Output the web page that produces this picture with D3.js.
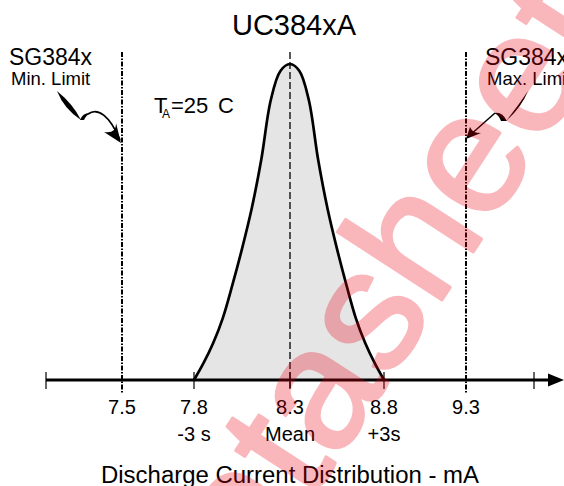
<!DOCTYPE html>
<html><head><meta charset="utf-8">
<script src="https://cdn.jsdelivr.net/npm/d3@7"></script>
<style>body{margin:0;background:#fff}svg{display:block}text{font-family:"Liberation Sans",Arial,sans-serif;fill:#000}</style>
</head><body>
<svg id="c" width="564" height="486"></svg>
<script>
const chartTitle = "UC384xA";
const axisTitle = "Discharge Current Distribution  - mA";
const tickValues = [7.5, 7.8, 8.3, 8.8, 9.3];
const tickLabels = ["7.5", "7.8", "8.3", "8.8", "9.3"];
const sigmaValues = [7.8, 8.3, 8.8];
const sigmaLabels = ["-3 s", "Mean", "+3s"];
const limitValues = [7.5, 9.3];
const limitNames = ["SG384x", "SG384x"];
const limitSubs = ["Min. Limit", "Max. Limit"];
const distValues = [7.80,7.85,7.90,7.95,8.00,8.05,8.10,8.15,8.20,8.25,8.30,8.35,8.40,8.45,8.50,8.55,8.60,8.65,8.70,8.75,8.80];
const distFreq   = [0,0.054,0.117,0.196,0.301,0.415,0.541,0.696,0.886,0.978,1.0,0.978,0.886,0.696,0.541,0.415,0.301,0.196,0.117,0.054,0];
const watermark = "datasheet";

const svg = d3.select("#c");
const axisY = 380, axisX0 = 46, axisTick1 = 534, axisX1 = 564;
const x = d3.scaleLinear().domain(tickValues).range([122, 194, 290, 384, 466]);
const y = d3.scaleLinear().domain([0, 1]).range([axisY, 64]);
const pts = distValues.map((v, i) => [v, distFreq[i]]);

// filled distribution
svg.append("path").datum(pts)
  .attr("d", d3.area().x(d => x(d[0])).y0(y(0)).y1(d => y(d[1])).curve(d3.curveCatmullRom))
  .attr("fill", "#e5e5e5");

// mean dashed line
svg.append("line").attr("x1", x(8.3)).attr("x2", x(8.3)).attr("y1", 52).attr("y2", 388)
  .attr("stroke", "#000").attr("stroke-width", 1.3).attr("stroke-dasharray", "7,3");

// limit lines
svg.selectAll(".lim").data(limitValues).enter().append("line")
  .attr("x1", d => x(d)).attr("x2", d => x(d)).attr("y1", 52).attr("y2", 393)
  .attr("stroke", "#000").attr("stroke-width", 2).attr("stroke-dasharray", "5,1.5,1.5,1.5");

// curve outline
svg.append("path").datum(pts)
  .attr("d", d3.line().x(d => x(d[0])).y(d => y(d[1])).curve(d3.curveCatmullRom))
  .attr("fill", "none").attr("stroke", "#000").attr("stroke-width", 2.7).attr("stroke-linejoin", "round");

// axis
svg.append("line").attr("x1", axisX0).attr("x2", axisX1 - 14).attr("y1", axisY).attr("y2", axisY)
  .attr("stroke", "#000").attr("stroke-width", 3);
svg.append("path").attr("d", `M${axisX1 - 16},${axisY - 6.5}L${axisX1},${axisY}L${axisX1 - 16},${axisY + 6.5}Z`).attr("fill", "#000");
const tickXs = [axisX0, x(7.8), x(8.3), x(8.8), axisTick1];
svg.selectAll(".tk").data(tickXs).enter().append("line")
  .attr("x1", d => d).attr("x2", d => d).attr("y1", axisY - 8).attr("y2", axisY + 9)
  .attr("stroke", "#000").attr("stroke-width", 1.2);

// tick labels
svg.selectAll(".tl").data(tickValues).enter().append("text")
  .attr("x", d => x(d)).attr("y", 414).attr("text-anchor", "middle").attr("font-size", 20)
  .text((d, i) => tickLabels[i]);
svg.selectAll(".sl").data(sigmaValues).enter().append("text")
  .attr("x", d => x(d)).attr("y", 441).attr("text-anchor", "middle").attr("font-size", 20)
  .text((d, i) => sigmaLabels[i]);

// axis title
svg.append("text").attr("x", 101).attr("y", 483).attr("font-size", 23)
  .attr("textLength", 378).attr("lengthAdjust", "spacingAndGlyphs").text(axisTitle);

// chart title
svg.append("text").attr("x", 294).attr("y", 35).attr("text-anchor", "middle").attr("font-size", 29).text(chartTitle);

// TA label
const ta = svg.append("text").attr("font-size", 22).attr("y", 113);
ta.append("tspan").attr("x", 154).text("T");
ta.append("tspan").attr("x", 162).attr("dy", 5).attr("font-size", 12).text("A");
ta.append("tspan").attr("x", 171).attr("dy", -5).text("=25");
ta.append("tspan").attr("x", 218).text("C");

// limit labels
const limX = [9, 485];
limitValues.forEach((v, i) => {
  svg.append("text").attr("x", limX[i]).attr("y", 65).attr("font-size", 23).text(limitNames[i]);
  svg.append("text").attr("x", limX[i] + 2).attr("y", 85).attr("font-size", 18.5).text(limitSubs[i]);
});

// swoosh arrows (left)
const g = svg.append("g").attr("fill", "#000");
g.append("path").attr("d", "M57,91 Q64,109 81,120 Q73,104 57,91 Z");
g.append("path").attr("d", "M80,120 Q83,112 91,113 Q86,115 84,120 Z");
svg.append("path").attr("d", "M88,114 C98,107 110,116 120,140").attr("fill", "none").attr("stroke", "#000").attr("stroke-width", 1.8);
g.append("path").attr("d", "M121,143 L104,132 Q111,133 114,130 Q116,128 116,123 Z");
// swoosh arrows (right)
g.append("path").attr("d", "M528,91 Q521,108 506,121 Q518,106 528,91 Z");
g.append("path").attr("d", "M507,121 Q502,111 494,113 Q499,115 501,121 Z");
svg.append("path").attr("d", "M495,113 L469,136").attr("fill", "none").attr("stroke", "#000").attr("stroke-width", 1.5);
g.append("path").attr("d", "M466,139 L470,127 Q472,131 474,132 Q477,133 481,133 Z");

// watermark
svg.append("g").attr("opacity", 0.28)
  .append("text").attr("transform", "translate(412,346) rotate(-57)")
  .attr("text-anchor", "middle").attr("font-size", 172)
  .style("fill", "rgb(235,0,20)").style("stroke", "rgb(235,0,20)").attr("stroke-width", 3)
  .attr("stroke-linejoin", "round").text(watermark);
</script>
</body></html>
